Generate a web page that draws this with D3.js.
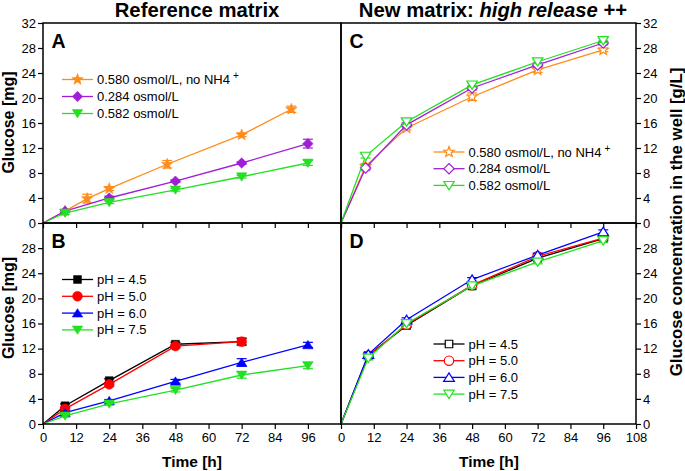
<!DOCTYPE html>
<html>
<head>
<meta charset="utf-8">
<script src="https://cdn.jsdelivr.net/npm/d3@7"></script>
<style>
  body { margin: 0; background: #fff; }
  svg { font-family: "Liberation Sans", Arial, sans-serif; }
  .tick text { font-size: 13px; fill: #000; }
  .tick line { stroke: #000; stroke-width: 1.2; }
</style>
</head>
<body>
<svg id="chart" width="685" height="471"></svg>
<script>
// ---- data ----
const timeA = [0, 8, 16, 24, 45, 72, 90];
const orangeA = [0, 1.9, 3.9, 5.5, 9.4, 14.1, 18.2];
const orangeAErr = [0, 0, 0.7, 0.3, 0.6, 0.3, 0.5];
const timeStd = [0, 8, 24, 48, 72, 96];
const purpleA = [0, 1.9, 4.0, 6.7, 9.6, 12.7];
const purpleAErr = [0, 0.2, 0.3, 0.2, 0.2, 0.7];
const greenA = [0, 1.6, 3.3, 5.3, 7.4, 9.6];
const greenAErr = [0, 0.2, 0.2, 0.2, 0.2, 0.4];

const timeB72 = [0, 8, 24, 48, 72];
const blackB = [0, 2.9, 6.9, 12.7, 13.1];
const blackBErr = [0, 0.3, 0.3, 0.3, 0.5];
const redB = [0, 2.4, 6.3, 12.4, 13.1];
const redBErr = [0, 0.3, 0.3, 0.3, 0.6];
const blueB = [0, 1.8, 3.7, 6.8, 9.8, 12.6];
const blueBErr = [0, 0.2, 0.2, 0.3, 0.6, 0.4];
const greenB = [0, 1.3, 3.2, 5.4, 7.8, 9.3];
const greenBErr = [0, 0.2, 0.2, 0.3, 0.5, 0.5];

const timeC = [0, 9, 24, 48, 72, 96];
const orangeC = [0, 9.1, 15.2, 20.2, 24.5, 27.7];
const orangeCErr = [0, 0.4, 0.3, 0.6, 0.4, 0.3];
const purpleC = [0, 8.8, 15.7, 21.6, 25.3, 28.8];
const purpleCErr = [0, 0.3, 0.3, 0.3, 0.3, 0.3];
const greenC = [0, 10.7, 16.2, 22.1, 25.8, 29.2];
const greenCErr = [0, 0.3, 0.3, 0.3, 0.3, 0.3];

const timeD = [0, 10, 24, 48, 72, 96];
const blackD = [0, 10.9, 15.7, 22.0, 26.4, 29.5];
const redD = [0, 10.9, 15.8, 22.1, 26.7, 29.6];
const blueD = [0, 11.1, 16.6, 23.0, 26.9, 30.6];
const greenD = [0, 10.5, 16.0, 22.0, 25.8, 29.2];
const errD = [0, 0.3, 0.3, 0.3, 0.3, 0.3];

const yTicksTop = [0, 4, 8, 12, 16, 20, 24, 28, 32];
const yTicksBottom = [0, 4, 8, 12, 16, 20, 24, 28];
const xTicksLeft = [0, 12, 24, 36, 48, 60, 72, 84, 96];
const xTicksRight = [0, 12, 24, 36, 48, 60, 72, 84, 96, 108];

const ORANGE = "#ff8c1a", PURPLE = "#a01ed8", GREEN = "#22e022",
      BLACK = "#000000", RED = "#ff0000", BLUE = "#0000ff";

const svg = d3.select("#chart");

// marker paths, drawn round (0,0)
function markerPath(shape, r) {
  const p = d3.path();
  if (shape === "star") {
    for (let i = 0; i < 10; i++) {
      const a = -Math.PI / 2 + i * Math.PI / 5, rr = i % 2 ? r * 0.42 : r;
      i ? p.lineTo(rr * Math.cos(a), rr * Math.sin(a)) : p.moveTo(rr * Math.cos(a), rr * Math.sin(a));
    }
  } else if (shape === "diamond") {
    p.moveTo(0, -r); p.lineTo(r, 0); p.lineTo(0, r); p.lineTo(-r, 0);
  } else if (shape === "down") {
    p.moveTo(-r, -r * 0.75); p.lineTo(r, -r * 0.75); p.lineTo(0, r * 0.85);
  } else if (shape === "up") {
    p.moveTo(-r, r * 0.75); p.lineTo(r, r * 0.75); p.lineTo(0, -r * 0.85);
  } else if (shape === "square") {
    p.rect(-r * 0.85, -r * 0.85, r * 1.7, r * 1.7);
  } else if (shape === "circle") {
    p.arc(0, 0, r * 0.9, 0, Math.PI * 2);
  }
  p.closePath();
  return p.toString();
}

function drawPanel(cfg) {
  const x = d3.scaleLinear().domain([0, 108]).range(cfg.xr);
  const y = d3.scaleLinear().domain([0, 32]).range(cfg.yr);
  const g = svg.append("g");

  // series
  cfg.series.forEach(s => {
    const pts = s.t.map((t, i) => ({t: t, v: s.v[i], e: s.e ? s.e[i] : 0}));
    const sg = g.append("g");
    sg.append("path")
      .datum(pts)
      .attr("fill", "none")
      .attr("stroke", s.color)
      .attr("stroke-width", 1.3)
      .attr("d", d3.line().x(d => x(d.t)).y(d => y(d.v)));
    const eb = sg.selectAll("g.err").data(pts.filter(d => d.e > 0)).enter().append("g")
      .attr("stroke", s.color).attr("stroke-width", 1.2);
    eb.append("line").attr("x1", d => x(d.t)).attr("x2", d => x(d.t))
      .attr("y1", d => y(d.v - d.e)).attr("y2", d => y(d.v + d.e));
    eb.append("line").attr("x1", d => x(d.t) - 5).attr("x2", d => x(d.t) + 5)
      .attr("y1", d => y(d.v + d.e)).attr("y2", d => y(d.v + d.e));
    eb.append("line").attr("x1", d => x(d.t) - 5).attr("x2", d => x(d.t) + 5)
      .attr("y1", d => y(d.v - d.e)).attr("y2", d => y(d.v - d.e));
    sg.selectAll("path.mk").data(pts.filter(d => d.t > 0)).enter().append("path")
      .attr("class", "mk")
      .attr("transform", d => `translate(${x(d.t)},${y(d.v)})`)
      .attr("d", markerPath(s.shape, s.r || 5))
      .attr("fill", s.open ? "#fff" : s.color)
      .attr("stroke", s.color)
      .attr("stroke-width", s.open ? 1.2 : 0.6);
  });

  // frame
  g.append("rect")
    .attr("x", cfg.xr[0]).attr("y", cfg.yr[1])
    .attr("width", cfg.xr[1] - cfg.xr[0]).attr("height", cfg.yr[0] - cfg.yr[1])
    .attr("fill", "none").attr("stroke", "#000").attr("stroke-width", 1.5);

  // y axis
  const yAxis = cfg.yRight ? d3.axisRight(y) : d3.axisLeft(y);
  g.append("g")
    .attr("transform", `translate(${cfg.yRight ? cfg.xr[1] : cfg.xr[0]},0)`)
    .call(yAxis.tickValues(cfg.yTicks).tickSize(5).tickPadding(2).tickFormat(d3.format("d")))
    .call(a => a.select(".domain").remove());

  // x axis
  const xa = g.append("g")
    .attr("transform", `translate(0,${cfg.yr[0]})`)
    .call(d3.axisBottom(x).tickValues(cfg.xTicks).tickSize(5).tickPadding(4))
    .call(a => a.select(".domain").remove());
  if (!cfg.xLabels) xa.selectAll("text").remove();

  // panel letter
  g.append("text")
    .attr("x", cfg.xr[0] + 8.5).attr("y", cfg.yr[1] + 25)
    .attr("font-size", 19.5).attr("font-weight", "bold")
    .text(cfg.letter);

  // legend
  const lg = g.append("g").attr("transform", `translate(${cfg.legend[0]},${cfg.legend[1]})`);
  cfg.series.forEach((s, i) => {
    const row = lg.append("g").attr("transform", `translate(0,${i * cfg.legendStep})`);
    row.append("line").attr("x1", 0).attr("x2", 31).attr("y1", 0).attr("y2", 0)
      .attr("stroke", s.color).attr("stroke-width", 1.3);
    row.append("path").attr("transform", "translate(15.5,0)")
      .attr("d", markerPath(s.shape, s.r || 5))
      .attr("fill", s.open ? "#fff" : s.color)
      .attr("stroke", s.color).attr("stroke-width", s.open ? 1.2 : 0.6);
    const tx = row.append("text").attr("x", 35).attr("y", 4.5).attr("font-size", 13);
    tx.append("tspan").text(s.name);
    if (s.sup) tx.append("tspan").attr("dy", -5).attr("dx", 3).attr("font-size", 10).text(s.sup);
  });
}

const xl = [43, 341], xr = [341, 636], yt = [223, 23], yb = [424, 223];

drawPanel({
  letter: "A", xr: xl, yr: yt, yTicks: yTicksTop, xTicks: xTicksLeft.concat([108]), xLabels: false,
  legend: [62, 79.5], legendStep: 17,
  series: [
    {name: "0.580 osmol/L, no NH4", sup: "+", t: timeA, v: orangeA, e: orangeAErr, color: ORANGE, shape: "star", r: 6},
    {name: "0.284 osmol/L", t: timeStd, v: purpleA, e: purpleAErr, color: PURPLE, shape: "diamond", r: 5.2},
    {name: "0.582 osmol/L", t: timeStd, v: greenA, e: greenAErr, color: GREEN, shape: "down", r: 5.2}
  ]
});

drawPanel({
  letter: "B", xr: xl, yr: yb, yTicks: yTicksBottom, xTicks: xTicksLeft, xLabels: true,
  legend: [62, 279.5], legendStep: 16.8,
  series: [
    {name: "pH = 4.5", t: timeB72, v: blackB, e: blackBErr, color: BLACK, shape: "square", r: 4.6},
    {name: "pH = 5.0", t: timeB72, v: redB, e: redBErr, color: RED, shape: "circle", r: 5.4},
    {name: "pH = 6.0", t: timeStd, v: blueB, e: blueBErr, color: BLUE, shape: "up", r: 5.2},
    {name: "pH = 7.5", t: timeStd, v: greenB, e: greenBErr, color: GREEN, shape: "down", r: 5.2}
  ]
});

drawPanel({
  letter: "C", xr: xr, yr: yt, yRight: true, yTicks: yTicksTop, xTicks: xTicksRight, xLabels: false,
  legend: [433.5, 152], legendStep: 16.7,
  series: [
    {name: "0.580 osmol/L, no NH4", sup: "+", t: timeC, v: orangeC, e: orangeCErr, color: ORANGE, shape: "star", r: 5.5, open: true},
    {name: "0.284 osmol/L", t: timeC, v: purpleC, e: purpleCErr, color: PURPLE, shape: "diamond", r: 5.2, open: true},
    {name: "0.582 osmol/L", t: timeC, v: greenC, e: greenCErr, color: GREEN, shape: "down", r: 5.2, open: true}
  ]
});

drawPanel({
  letter: "D", xr: xr, yr: yb, yRight: true, yTicks: yTicksBottom, xTicks: xTicksRight, xLabels: true,
  legend: [433.5, 344], legendStep: 16.7,
  series: [
    {name: "pH = 4.5", t: timeD, v: blackD, e: errD, color: BLACK, shape: "square", r: 4.4, open: true},
    {name: "pH = 5.0", t: timeD, v: redD, e: errD, color: RED, shape: "circle", r: 5.2, open: true},
    {name: "pH = 6.0", t: timeD, v: blueD, e: errD, color: BLUE, shape: "up", r: 5.4, open: true},
    {name: "pH = 7.5", t: timeD, v: greenD, e: errD, color: GREEN, shape: "down", r: 5.2, open: true}
  ]
});

// titles and axis labels
svg.append("text").attr("x", 197).attr("y", 17).attr("text-anchor", "middle")
  .attr("font-size", 20.3).attr("font-weight", "bold").text("Reference matrix");
const t2 = svg.append("text").attr("x", 493).attr("y", 17).attr("text-anchor", "middle")
  .attr("font-size", 20.3).attr("font-weight", "bold");
t2.append("tspan").text("New matrix: ");
t2.append("tspan").attr("font-style", "italic").text("high release");
t2.append("tspan").text(" ++");

[122.5, 308].forEach(cy => {
  svg.append("text").attr("transform", `translate(13.5,${cy}) rotate(-90)`)
    .attr("text-anchor", "middle").attr("font-size", 16).attr("font-weight", "bold")
    .text("Glucose [mg]");
});
svg.append("text").attr("transform", "translate(681.5,222) rotate(-90)")
  .attr("text-anchor", "middle").attr("font-size", 16.8).attr("font-weight", "bold")
  .text("Glucose concentration in the well [g/L]");
[192, 489].forEach(cx => {
  svg.append("text").attr("x", cx).attr("y", 467).attr("text-anchor", "middle")
    .attr("font-size", 15.5).attr("font-weight", "bold").text("Time [h]");
});
</script>
</body>
</html>
